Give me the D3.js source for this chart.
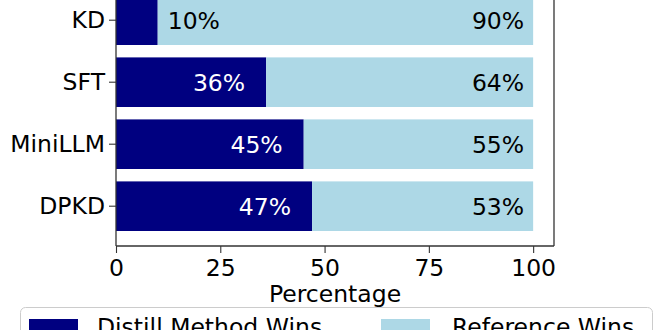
<!DOCTYPE html>
<html>
<head>
<meta charset="utf-8">
<script src="https://cdn.jsdelivr.net/npm/d3@7"></script>
<style>
  html, body { margin: 0; padding: 0; background: #fff; }
  svg { display: block; font-family: "DejaVu Sans", sans-serif; }
</style>
</head>
<body>
<svg id="chart" width="660" height="330"></svg>
<script>
const categories = ["KD", "SFT", "MiniLLM", "DPKD"];
const distillWins = [10, 36, 45, 47];
const referenceWins = [90, 64, 55, 53];
const xTicks = [0, 25, 50, 75, 100];
const legendLabels = ["Distill Method Wins", "Reference Wins"];
const colors = ["#000080", "#add8e6"];

const svg = d3.select("#chart");
const fs = 23.5;
const left = 116, right = 554, bottom = 246;

const x = d3.scaleLinear().domain([0, 105]).range([left, right]);
const y = d3.scaleBand().domain(categories).range([-4.6, 231]).paddingInner(0.2).paddingOuter(0);

// bars
const g = svg.append("g");
categories.forEach((c, i) => {
  g.append("rect").attr("x", x(0)).attr("y", y(c))
    .attr("width", x(distillWins[i]) - x(0)).attr("height", y.bandwidth())
    .attr("fill", colors[0]);
  g.append("rect").attr("x", x(distillWins[i])).attr("y", y(c))
    .attr("width", x(distillWins[i] + referenceWins[i]) - x(distillWins[i])).attr("height", y.bandwidth())
    .attr("fill", colors[1]);
  const cy = y(c) + y.bandwidth() / 2 + fs * 0.36;
  const small = distillWins[i] < 20;
  g.append("text")
    .attr("x", small ? x(distillWins[i]) + 10 : x(distillWins[i]) - 21)
    .attr("y", cy)
    .attr("text-anchor", small ? "start" : "end")
    .attr("font-size", fs)
    .attr("fill", small ? "#000" : "#fff")
    .text(distillWins[i] + "%");
  g.append("text")
    .attr("x", x(distillWins[i] + referenceWins[i]) - 9)
    .attr("y", cy)
    .attr("text-anchor", "end")
    .attr("font-size", fs)
    .attr("fill", "#000")
    .text(referenceWins[i] + "%");
});

// spines
const spine = "#333";
svg.append("line").attr("x1", left).attr("x2", left).attr("y1", -2).attr("y2", bottom).attr("stroke", spine).attr("stroke-width", 1.3);
svg.append("line").attr("x1", right).attr("x2", right).attr("y1", -2).attr("y2", bottom).attr("stroke", spine).attr("stroke-width", 1.3);
svg.append("line").attr("x1", left).attr("x2", right).attr("y1", bottom).attr("y2", bottom).attr("stroke", spine).attr("stroke-width", 1.3);

// x axis
const xAxis = svg.append("g").attr("transform", `translate(0,${bottom})`)
  .call(d3.axisBottom(x).tickValues(xTicks).tickSize(7).tickPadding(6).tickFormat(d3.format("d")));
xAxis.select(".domain").remove();
xAxis.selectAll(".tick line").attr("stroke", spine).attr("stroke-width", 1.1);
xAxis.selectAll(".tick text").attr("font-size", fs).attr("fill", "#000").attr("font-family", "DejaVu Sans");

// y axis
const yAxis = svg.append("g").attr("transform", `translate(${left},0)`)
  .call(d3.axisLeft(y).tickSize(7).tickPadding(4));
yAxis.select(".domain").remove();
yAxis.selectAll(".tick line").attr("stroke", spine).attr("stroke-width", 1.1);
yAxis.selectAll(".tick text").attr("font-size", fs).attr("fill", "#000").attr("font-family", "DejaVu Sans");

// x label
svg.append("text").attr("x", (left + right) / 2).attr("y", 302)
  .attr("text-anchor", "middle").attr("font-size", fs).attr("fill", "#000").text("Percentage");

// legend
svg.append("rect").attr("x", 20.5).attr("y", 307.5).attr("width", 632).attr("height", 60)
  .attr("rx", 5).attr("fill", "#fff").attr("stroke", "#ccc").attr("stroke-width", 1);
const legX = [29, 381], legTX = [97, 452];
legendLabels.forEach((l, i) => {
  svg.append("rect").attr("x", legX[i]).attr("y", 319).attr("width", 49).attr("height", 17).attr("fill", colors[i]);
  svg.append("text").attr("x", legTX[i]).attr("y", 335).attr("font-size", fs).attr("fill", "#000").text(l);
});
</script>
</body>
</html>
